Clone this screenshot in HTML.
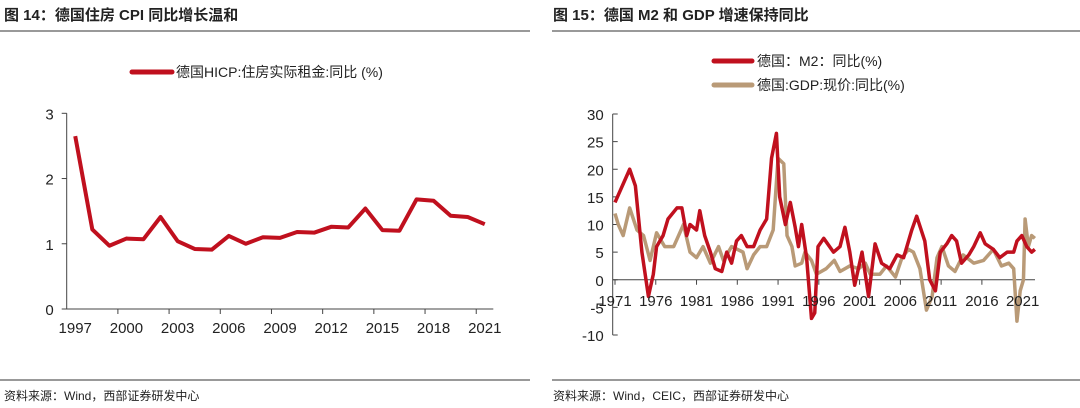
<!DOCTYPE html>
<html><head><meta charset="utf-8"><style>
body{margin:0;background:#fff;width:1080px;height:408px;overflow:hidden}
svg{display:block;font-family:"Liberation Sans","Noto Sans CJK SC",sans-serif}
</style></head><body>
<svg id="s" width="1080" height="408">
<g font-size="15" fill="#222" font-weight="bold">
<text x="4" y="20">图 14：德国住房 CPI 同比增长温和</text>
<text x="553" y="20">图 15：德国 M2 和 GDP 增速保持同比</text>
</g>
<rect x="0" y="30" width="530" height="2" fill="#999"/>
<rect x="552" y="30" width="528" height="2" fill="#999"/>
<rect x="0" y="379" width="530" height="2" fill="#999"/>
<rect x="552" y="379" width="528" height="2" fill="#999"/>
<text x="4" y="400" font-size="12" fill="#222">资料来源：Wind，西部证券研发中心</text>
<text x="553" y="400" font-size="12" fill="#222">资料来源：Wind，CEIC，西部证券研发中心</text>
<g>
<line x1="132" y1="72" x2="172" y2="72" stroke="#c0101e" stroke-width="5" stroke-linecap="round"/>
<text x="176" y="77" font-size="14" fill="#222">德国HICP:住房实际租金:同比 (%)</text>
</g>
<g>
<line x1="714" y1="61" x2="752" y2="61" stroke="#c0101e" stroke-width="5" stroke-linecap="round"/>
<text x="757" y="66" font-size="14" fill="#222">德国：M2：同比(%)</text>
<line x1="714" y1="85" x2="752" y2="85" stroke="#b99a77" stroke-width="5" stroke-linecap="round"/>
<text x="757" y="90" font-size="14" fill="#222">德国:GDP:现价:同比(%)</text>
</g>
<g id="L"></g>
<g id="R"></g>
</svg>
<script>
const leftYears=[1997,1998,1999,2000,2001,2002,2003,2004,2005,2006,2007,2008,2009,2010,2011,2012,2013,2014,2015,2016,2017,2018,2019,2020,2021];
const leftValues=[2.65,1.22,0.97,1.08,1.07,1.41,1.04,0.92,0.91,1.12,1.00,1.10,1.09,1.18,1.17,1.26,1.25,1.54,1.21,1.20,1.68,1.66,1.43,1.41,1.30];
const leftYTicks=[0,1,2,3];
const m2Dates=[1971,1972.8,1973.5,1974.3,1975.1,1975.7,1976.1,1976.9,1977.5,1978.6,1979.2,1979.8,1980.2,1981,1981.4,1982,1982.7,1983.3,1984.1,1984.7,1985.3,1985.9,1986.5,1987.2,1988,1988.8,1989.6,1990.2,1990.8,1991.2,1991.9,1992.5,1993.1,1993.5,1993.9,1994.5,1995.1,1995.5,1995.9,1996.6,1997.8,1998.6,1999.2,1999.8,2000.4,2001.3,2002.1,2002.9,2003.7,2004.7,2005.6,2006.4,2007.4,2008,2009,2009.6,2010.3,2010.9,2011.7,2012.3,2012.9,2013.5,2014.4,2015,2015.8,2016.4,2017.4,2018.2,2019.1,2019.9,2020.3,2020.9,2021.5,2022.1,2022.5];
const m2Values=[14,20,17,5,-3,1,6,8,11,13,13,8,10,9,12.5,8,5,2,1.5,5,3,7,8,6,6,9,11,22,26.5,15,10,14,9.5,6,10,4,-7,-6,6,7.5,5,6,9.5,5,-1,5,-3,6.5,3,2,4.5,4,9,11.5,7,0,-2,5,6.5,8,7,3,4.5,6,8.5,6.5,5.5,4,5,5,7,8,6,5,5.5];
const gdpDates=[1971,1971.4,1972,1972.8,1973.7,1974.5,1975.3,1976.1,1977.1,1978.2,1978.8,1979.4,1980.2,1981,1981.8,1982.7,1983.7,1984.3,1985.3,1986.7,1987.2,1988,1988.8,1989.6,1990.4,1991,1991.7,1992.1,1992.7,1993.1,1993.9,1994.3,1995.1,1995.7,1996.9,1997.9,1998.6,1999.8,2000.9,2001.7,2002.3,2003.5,2004.3,2005.4,2006.2,2007,2007.6,2008.4,2009.2,2009.9,2010.5,2011.1,2011.9,2012.7,2013.7,2015,2016.2,2017.4,2018.4,2019.3,2019.9,2020.3,2020.7,2021.1,2021.3,2021.7,2022.1,2022.5];
const gdpValues=[12,10,8,13,9,8,3.5,8.5,6,6,8,10,5,4,6,3,6,3.5,6,5,2,4.5,6,6,9,22,21,8,6,2.5,3,5,3.5,1,2,3.5,1.5,2.5,2,3,1,1,2.5,0.5,4,5.5,5,2,-5.5,-3,4,6,2.5,1.5,4.5,3,3.5,5.5,2.5,3,2,-7.5,-2,0,11,6,8,7.5];
const rightYTicks=[-10,-5,0,5,10,15,20,25,30];
const rightXTicks=[1971,1976,1981,1986,1991,1996,2001,2006,2011,2016,2021];
const NS="http://www.w3.org/2000/svg";
function mk(p,t,a){const e=document.createElementNS(NS,t);for(const k in a)e.setAttribute(k,a[k]);p.appendChild(e);return e;}
// Left chart
const L=document.getElementById('L');
const lx0=66.7,lx1=493.3,ly0=309,ly3=113.3;
const band=(lx1-lx0)/leftYears.length;
const lX=i=>lx0+band*(i+0.5);
const lY=v=>ly0-(v/3)*(ly0-ly3);
let ax=mk(L,'path',{d:`M${lx0} ${lY(3)} V${ly0} H${lx1}`,stroke:'#444',fill:'none','stroke-width':1});

leftYTicks.forEach(v=>{
 const t=mk(L,'line',{x1:lx0-5,x2:lx0,y1:lY(v),y2:lY(v),stroke:'#444'});
 
 const tx=mk(L,'text',{x:lx0-13,y:lY(v)+6,'text-anchor':'end','font-size':15,fill:'#222'});tx.textContent=v;
 
});
leftYears.forEach((y,i)=>{
 if(i%3===0&&i>0){const t=mk(L,'line',{x1:lx0+band*i,x2:lx0+band*i,y1:ly0,y2:ly0+5,stroke:'#444'});
  }
 if(i%3===0){const tx=mk(L,'text',{x:lX(i),y:ly0+24,'text-anchor':'middle','font-size':15,fill:'#222'});tx.textContent=y;
  }
});
const lp=mk(L,'polyline',{points:leftValues.map((v,i)=>lX(i)+','+lY(v)).join(' '),fill:'none',stroke:'#c0101e','stroke-width':4,'stroke-linejoin':'round'});

// Right chart
const R=document.getElementById('R');
const rx0=612.7,rTop=114,rBot=335;
const rX=y=>rx0+2.3+(y-1971)*8.153;
const rY=v=>rBot-(v+10)/40*(rBot-rTop);
let ax2=mk(R,'line',{x1:rx0,x2:rx0,y1:rTop,y2:rBot,stroke:'#444'});

let ax3=mk(R,'line',{x1:rx0,x2:1035,y1:rY(0),y2:rY(0),stroke:'#444'});

rightYTicks.forEach(v=>{
 const t=mk(R,'line',{x1:rx0,x2:rx0+5,y1:rY(v),y2:rY(v),stroke:'#444'});
 
 const tx=mk(R,'text',{x:rx0-9,y:rY(v)+6,'text-anchor':'end','font-size':15,fill:'#222'});tx.textContent=v;
 
});
rightXTicks.forEach(y=>{
 const t=mk(R,'line',{x1:rX(y),x2:rX(y),y1:rY(0),y2:rY(0)+5,stroke:'#444'});
 
});
const gp=mk(R,'polyline',{points:gdpDates.map((d,i)=>rX(d)+','+rY(gdpValues[i])).join(' '),fill:'none',stroke:'#b99a77','stroke-width':3.5,'stroke-linejoin':'round'});

const mp=mk(R,'polyline',{points:m2Dates.map((d,i)=>rX(d)+','+rY(m2Values[i])).join(' '),fill:'none',stroke:'#c0101e','stroke-width':3.5,'stroke-linejoin':'round'});

rightXTicks.forEach(y=>{
 const tx=mk(R,'text',{x:rX(y),y:rY(0)+26,'text-anchor':'middle','font-size':15,fill:'#222'});tx.textContent=y;
 
});
</script>
</body></html>
